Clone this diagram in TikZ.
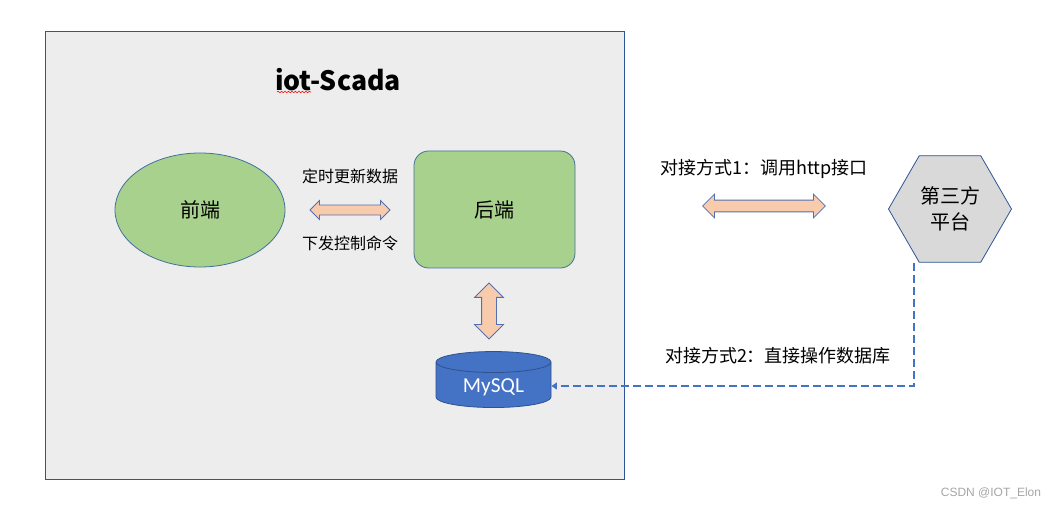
\documentclass[tikz,border=0pt]{standalone}
\usepackage{fontspec}
\setmainfont{Noto Sans CJK SC}
\newfontfamily\latin{Carlito}
\newfontfamily\wmfont{Liberation Sans}
\usepackage{xcolor}
\usetikzlibrary{arrows.meta,positioning,shapes.geometric,shapes.arrows,decorations.pathmorphing}
\definecolor{panel}{HTML}{EDEDED}
\definecolor{navy}{HTML}{2F5597}
\definecolor{edgeblue}{HTML}{41719C}
\definecolor{leafgreen}{HTML}{A9D18E}
\definecolor{peach}{HTML}{F8CBAD}
\definecolor{arrowedge}{HTML}{5470B0}
\definecolor{dbblue}{HTML}{4472C4}
\definecolor{dbedge}{HTML}{2F528F}
\definecolor{hexgray}{HTML}{D9D9D9}
\definecolor{wmgray}{HTML}{A6A6A6}

\begin{document}
\begin{tikzpicture}[x=0.75pt,y=-0.75pt,
  part/.style={draw=edgeblue,line width=0.6pt,fill=leafgreen,inner sep=0pt,font=\fontsize{15}{18}\selectfont},
  dbl/.style={draw=arrowedge,line width=0.6pt,fill=peach,double arrow,double arrow tip angle=90,double arrow head indent=0pt,inner xsep=0pt},
  tag/.style={font=\fontsize{12}{14}\selectfont},
  way/.style={font=\fontsize{13.5}{16}\selectfont},
  link/.style={dbblue,line width=1.5pt,dash pattern=on 6pt off 3pt,-{Triangle[length=4pt,width=5pt]}},
  node distance=12pt]
\useasboundingbox (0,0) rectangle (1058,509);
\fill[white] (0,0) rectangle (1058,509);
\node[draw=navy,line width=0.6pt,fill=panel,minimum width=434.25pt,minimum height=336pt,inner sep=0pt] (sys) at (334.5,255) {};
\node[font=\fontsize{20}{24}\selectfont\bfseries] (title) at (338,80) {iot-Scada};
\draw[red,line width=0.4pt,decorate,decoration={snake,amplitude=0.6pt,segment length=2.6pt}] (277,92) -- (311,92);
\node[part,ellipse,minimum width=127.5pt,minimum height=85.5pt] (front) at (200,210) {前端};
\node[part,rounded corners=11pt,minimum width=120.75pt,minimum height=87.75pt] (back) at (494.5,209.5) {后端};
\node[dbl,minimum height=60pt,inner ysep=3.4pt,double arrow head extend=3.4pt] (sync) at (350,210) {};
\node[tag,above=of sync] (poll) {定时更新数据};
\node[tag,below=of sync] (cmd) {下发控制命令};
\node[dbl,rotate=90,minimum height=42pt,inner ysep=5.25pt,double arrow head extend=5.25pt] (query) at (489,311) {};
\node[cylinder,shape border rotate=90,aspect=0.3,draw=dbedge,line width=0.6pt,fill=dbblue,minimum width=86.25pt,minimum height=42pt,text=white,font=\latin\fontsize{16}{19}\selectfont] (db) at (493.5,387) {MySQL};
\node[dbl,minimum height=92pt,inner ysep=4.1pt,double arrow head extend=4.5pt] (api) at (764,206) {};
\node[way,above=of api] (way1) {对接方式1：调用http接口};
\node[regular polygon,regular polygon sides=6,draw=navy,line width=0.6pt,fill=hexgray,minimum size=92.25pt,inner sep=0pt,align=center,font=\fontsize{15}{20}\selectfont] (third) at (950,209) {第三方\\平台};
\coordinate (elbow) at (914,386);
\draw[link] (third.south -| elbow) -- (elbow) -- (elbow -| db.east);
\node[way] (way2) at (778,356) {对接方式2：直接操作数据库};
\node[font=\wmfont\fontsize{9}{11}\selectfont,text=wmgray] (mark) at (991,493) {CSDN @IOT\_Elon};
\end{tikzpicture}
\end{document}
